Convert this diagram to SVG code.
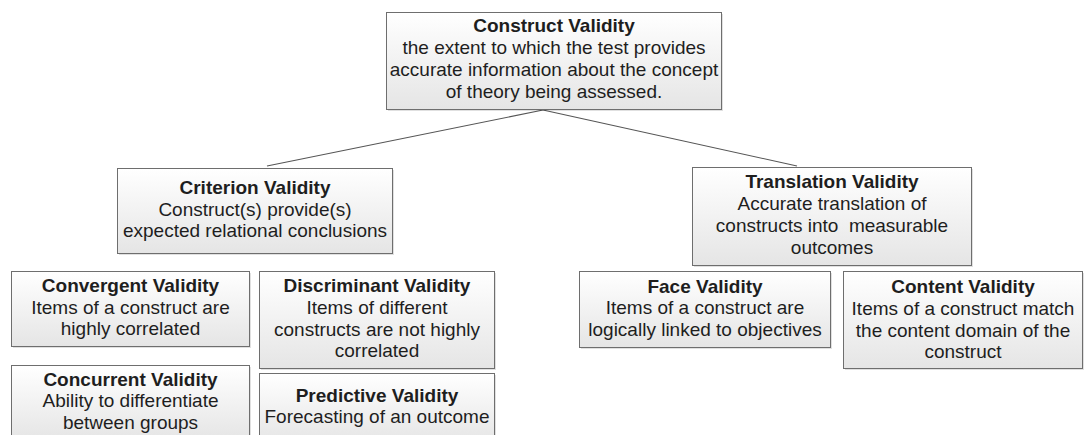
<svg xmlns="http://www.w3.org/2000/svg" width="1086" height="435" viewBox="0 0 1086 435">
<style>
  .box { fill: url(#g); stroke: #6e6e6e; stroke-width: 1; }
  .sh { fill: #000; opacity: 0.12; }
  text { font-family: "Liberation Sans", Arial, sans-serif; font-size: 19px; fill: #1e1e1e; text-anchor: middle; }
  .t { font-weight: bold; }
  .conn line { stroke: #555; stroke-width: 1.1; }
</style>
<defs>
  <linearGradient id="g" x1="0" y1="0" x2="0" y2="1">
    <stop offset="0" stop-color="#ffffff"/>
    <stop offset="1" stop-color="#e5e5e5"/>
  </linearGradient>
</defs>
<rect width="1086" height="435" fill="#fff"/>
<g class="conn" id="connectors">
  <line x1="543" y1="110" x2="267" y2="166"/>
  <line x1="543" y1="110" x2="797" y2="166"/>
</g>
<g id="construct">
  <rect class="sh" x="388" y="14" width="335" height="97"/>
  <rect class="box" x="386.5" y="12.5" width="335" height="97"/>
  <text x="554" y="32" class="t">Construct Validity</text>
  <text x="554" y="54">the extent to which the test provides</text>
  <text x="554" y="76">accurate information about the concept</text>
  <text x="554" y="98">of theory being assessed.</text>
</g>
<g id="criterion">
  <rect class="sh" x="119" y="170" width="275" height="85"/>
  <rect class="box" x="117.5" y="168.5" width="275" height="85"/>
  <text x="255" y="194" class="t">Criterion Validity</text>
  <text x="255" y="216">Construct(s) provide(s)</text>
  <text x="255" y="237">expected relational conclusions</text>
</g>
<g id="translation">
  <rect class="sh" x="694" y="169" width="279" height="98"/>
  <rect class="box" x="692.5" y="167.5" width="279" height="98"/>
  <text x="832" y="188" class="t">Translation Validity</text>
  <text x="832" y="210">Accurate translation of</text>
  <text x="832" y="232" xml:space="preserve">constructs into  measurable</text>
  <text x="832" y="254">outcomes</text>
</g>
<g id="convergent">
  <rect class="sh" x="13" y="273" width="238" height="75"/>
  <rect class="box" x="11.5" y="271.5" width="238" height="75"/>
  <text x="130.5" y="292" class="t">Convergent Validity</text>
  <text x="130.5" y="313.5">Items of a construct are</text>
  <text x="130.5" y="335">highly correlated</text>
</g>
<g id="discriminant">
  <rect class="sh" x="261" y="273" width="235" height="97"/>
  <rect class="box" x="259.5" y="271.5" width="235" height="97"/>
  <text x="377" y="292" class="t">Discriminant Validity</text>
  <text x="377" y="313.5">Items of different</text>
  <text x="377" y="335.5">constructs are not highly</text>
  <text x="377" y="357">correlated</text>
</g>
<g id="concurrent">
  <rect class="sh" x="13" y="367" width="238" height="75"/>
  <rect class="box" x="11.5" y="365.5" width="238" height="75"/>
  <text x="130.5" y="385.5" class="t">Concurrent Validity</text>
  <text x="130.5" y="407">Ability to differentiate</text>
  <text x="130.5" y="429">between groups</text>
</g>
<g id="predictive">
  <rect class="sh" x="261" y="375" width="235" height="70"/>
  <rect class="box" x="259.5" y="373.5" width="235" height="70"/>
  <text x="377" y="401.5" class="t">Predictive Validity</text>
  <text x="377" y="423">Forecasting of an outcome</text>
</g>
<g id="face">
  <rect class="sh" x="581" y="273" width="251" height="76"/>
  <rect class="box" x="579.5" y="271.5" width="251" height="76"/>
  <text x="705" y="292.5" class="t">Face Validity</text>
  <text x="705" y="314">Items of a construct are</text>
  <text x="705" y="335.5">logically linked to objectives</text>
</g>
<g id="content">
  <rect class="sh" x="845" y="273" width="239" height="97"/>
  <rect class="box" x="843.5" y="271.5" width="239" height="97"/>
  <text x="963" y="293" class="t">Content Validity</text>
  <text x="963" y="315">Items of a construct match</text>
  <text x="963" y="336.5">the content domain of the</text>
  <text x="963" y="357.5">construct</text>
</g>
</svg>
